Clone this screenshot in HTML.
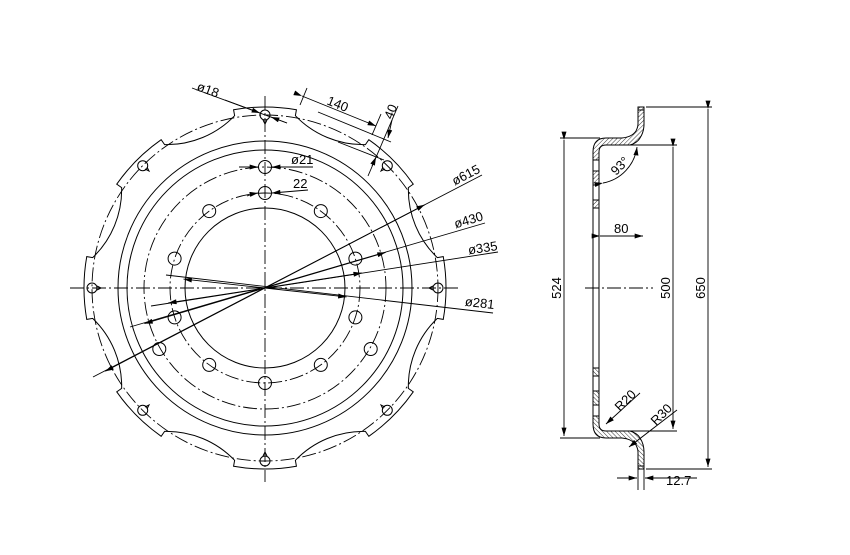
<!DOCTYPE html>
<html><head><meta charset="utf-8"><style>
html,body{margin:0;padding:0;background:#fff;}
svg{display:block;}
text{font-family:"Liberation Sans",sans-serif;font-size:13px;fill:#000;}
</style></head><body>
<svg width="850" height="555" viewBox="0 0 850 555" xmlns="http://www.w3.org/2000/svg">
<defs>
<marker id="ar" viewBox="0 0 10 6" refX="10" refY="3" markerWidth="9" markerHeight="5" orient="auto" markerUnits="userSpaceOnUse"><path d="M0,0 L10,3 L0,6 Z" fill="#000"/></marker>
<pattern id="h" patternUnits="userSpaceOnUse" width="3" height="3" patternTransform="rotate(45)"><line x1="0" y1="0" x2="0" y2="3" stroke="#000" stroke-width="0.8"/></pattern>
</defs>
<g fill="none" stroke="#000" stroke-width="1">
<g stroke-dasharray="14 3 2 3" stroke-width="0.9">
<line x1="70" y1="288" x2="458" y2="288"/>
<line x1="265" y1="96" x2="265" y2="482"/>
<circle cx="265" cy="288" r="173"/>
<circle cx="265" cy="288" r="121"/>
<circle cx="265" cy="288" r="95"/>
<line x1="585" y1="288" x2="653" y2="288"/>
</g>
<circle cx="265" cy="288" r="147"/>
<circle cx="265" cy="288" r="138"/>
<circle cx="265" cy="288" r="80"/>
<path d="M437.34,257.62 L443.25,256.58 A181,181 0 0 1 443.25,319.42 L437.34,318.38 A94,94 0 0 0 408.36,388.38 L413.28,391.82 A181,181 0 0 1 368.82,436.28 L365.38,431.36 A94,94 0 0 0 295.38,460.34 L296.42,466.25 A181,181 0 0 1 233.58,466.25 L234.62,460.34 A94,94 0 0 0 164.62,431.36 L161.18,436.28 A181,181 0 0 1 116.72,391.82 L121.64,388.38 A94,94 0 0 0 92.66,318.38 L86.75,319.42 A181,181 0 0 1 86.75,256.58 L92.66,257.62 A94,94 0 0 0 121.64,187.62 L116.72,184.18 A181,181 0 0 1 161.18,139.72 L164.62,144.64 A94,94 0 0 0 234.62,115.66 L233.58,109.75 A181,181 0 0 1 296.42,109.75 L295.38,115.66 A94,94 0 0 0 365.38,144.64 L368.82,139.72 A181,181 0 0 1 413.28,184.18 L408.36,187.62 A94,94 0 0 0 437.34,257.62 Z"/>
<g>
<circle cx="438" cy="288" r="5"/><circle cx="387.3" cy="410.3" r="5"/><circle cx="265" cy="461" r="5"/><circle cx="142.7" cy="410.3" r="5"/>
<circle cx="92" cy="288" r="5"/><circle cx="142.7" cy="165.7" r="5"/><circle cx="265" cy="115" r="5"/><circle cx="387.3" cy="165.7" r="5"/>
<path d="M263,120 L265,124 L267,120"/><path d="M97,286 L101,288 L97,290"/><path d="M433,286 L429,288 L433,290"/><path d="M263,456 L265,452 L267,456"/>
<path d="M145,169 L149,171 L147,167"/><path d="M385,169 L381,171 L383,167"/><path d="M145,407 L149,405 L147,409"/><path d="M385,407 L381,405 L383,409"/>
</g>
<g>
<circle cx="265" cy="193" r="6.5"/><circle cx="320.8" cy="211.1" r="6.5"/><circle cx="355.4" cy="258.6" r="6.5"/><circle cx="355.4" cy="317.4" r="6.5"/><circle cx="320.8" cy="364.9" r="6.5"/>
<circle cx="265" cy="383" r="6.5"/><circle cx="209.2" cy="364.9" r="6.5"/><circle cx="174.6" cy="317.4" r="6.5"/><circle cx="174.6" cy="258.6" r="6.5"/><circle cx="209.2" cy="211.1" r="6.5"/>
<circle cx="265" cy="167" r="6.5"/><circle cx="370.7" cy="349" r="6.5"/><circle cx="159.3" cy="349" r="6.5"/>
</g>
<g stroke-width="0.9">
<line x1="93" y1="377" x2="482" y2="175"/>
<line x1="265" y1="288" x2="424.7" y2="204.8" marker-end="url(#ar)"/>
<line x1="265" y1="288" x2="105.3" y2="371.2" marker-end="url(#ar)"/>
<line x1="130" y1="327" x2="485" y2="223"/>
<line x1="265" y1="288" x2="385.6" y2="252.4" marker-end="url(#ar)"/>
<line x1="265" y1="288" x2="144.4" y2="323.6" marker-end="url(#ar)"/>
<line x1="151" y1="306" x2="498" y2="252"/>
<line x1="265" y1="288" x2="361.8" y2="273" marker-end="url(#ar)"/>
<line x1="265" y1="288" x2="168.2" y2="303" marker-end="url(#ar)"/>
<line x1="166" y1="275" x2="493" y2="313"/>
<line x1="265" y1="288" x2="346.5" y2="296.9" marker-end="url(#ar)"/>
<line x1="265" y1="288" x2="183.5" y2="279.1" marker-end="url(#ar)"/>
<line x1="192" y1="88" x2="287" y2="123"/>
<line x1="225" y1="100" x2="260" y2="113" marker-end="url(#ar)"/>
<line x1="287" y1="123" x2="271" y2="117" marker-end="url(#ar)"/>
<line x1="239" y1="167" x2="258" y2="167" marker-end="url(#ar)"/>
<line x1="313" y1="167" x2="272" y2="167" marker-end="url(#ar)"/>
<path d="M247,196 Q252,194 258,193" marker-end="url(#ar)"/>
<line x1="308" y1="190" x2="272" y2="193" marker-end="url(#ar)"/>
<line x1="300" y1="105" x2="307" y2="88"/>
<line x1="372" y1="135" x2="381" y2="114"/>
<line x1="302" y1="96" x2="376" y2="126" marker-start="url(#ar)" marker-end="url(#ar)"/>
<line x1="318" y1="112" x2="391" y2="142"/>
<line x1="338" y1="142" x2="384" y2="160"/>
<line x1="368" y1="176" x2="398" y2="106"/>
<line x1="372" y1="166" x2="376" y2="157" marker-end="url(#ar)"/>
<line x1="392" y1="120" x2="388" y2="138" marker-end="url(#ar)"/>
</g>
<g id="sec" stroke-width="1">
<path d="M638,110 L644,110 L644,124 Q644,132 640,138 Q637,143 630,145 L606,145 Q599,145 599,152 L599,160 L593,160 L593,152 Q593,138 606,138 L622,138 Q632,137 636,131 Q638,127 638,124 Z" fill="url(#h)"/>
<rect x="638" y="107" width="6" height="3" fill="url(#h)"/>
<line x1="638" y1="110" x2="638" y2="124"/><line x1="644" y1="110" x2="644" y2="124"/>
<rect x="593" y="171" width="6" height="14" fill="url(#h)"/>
<rect x="593" y="200" width="6" height="8" fill="url(#h)"/>
<line x1="593" y1="160" x2="593" y2="288"/><line x1="599" y1="160" x2="599" y2="288"/>
</g>
<use href="#sec" transform="translate(0,576) scale(1,-1)"/>
<g stroke-width="0.9">
<line x1="560" y1="138" x2="600" y2="138"/><line x1="560" y1="438" x2="600" y2="438"/>
<line x1="564" y1="140" x2="564" y2="436" marker-start="url(#ar)" marker-end="url(#ar)"/>
<line x1="606" y1="145" x2="677" y2="145"/><line x1="606" y1="431" x2="677" y2="431"/>
<line x1="673" y1="147" x2="673" y2="429" marker-start="url(#ar)" marker-end="url(#ar)"/>
<line x1="646" y1="107" x2="712" y2="107"/><line x1="646" y1="469" x2="712" y2="469"/>
<line x1="708" y1="109" x2="708" y2="467" marker-start="url(#ar)" marker-end="url(#ar)"/>
<line x1="600" y1="236" x2="643" y2="236" marker-start="url(#ar)" marker-end="url(#ar)"/>
<path d="M603,183 A42,42 0 0 0 637,147" marker-start="url(#ar)" marker-end="url(#ar)"/>
<line x1="640" y1="393" x2="606" y2="424" marker-end="url(#ar)"/>
<line x1="677" y1="410" x2="629" y2="447" marker-end="url(#ar)"/>
<line x1="638" y1="469" x2="638" y2="490"/><line x1="644" y1="469" x2="644" y2="490"/>
<line x1="617" y1="478" x2="637" y2="478" marker-end="url(#ar)"/>
<line x1="697" y1="478" x2="645" y2="478" marker-end="url(#ar)"/>
</g>
</g>
<text transform="translate(196,90) rotate(20)">ø18</text>
<text transform="translate(326,104) rotate(22)">140</text>
<text transform="translate(392,120) rotate(-68)">40</text>
<text x="291" y="164">ø21</text>
<text x="293" y="188">22</text>
<text text-anchor="end" transform="translate(481,172) rotate(-27.5)">ø615</text>
<text text-anchor="end" transform="translate(484,220) rotate(-16.5)">ø430</text>
<text text-anchor="end" transform="translate(498,250) rotate(-8.8)">ø335</text>
<text text-anchor="end" transform="translate(494,309) rotate(6.3)">ø281</text>
<text text-anchor="middle" transform="translate(561,288) rotate(-90)">524</text>
<text text-anchor="middle" transform="translate(670,288) rotate(-90)">500</text>
<text text-anchor="middle" transform="translate(705,288) rotate(-90)">650</text>
<text x="614" y="233">80</text>
<text transform="translate(616,176) rotate(-45)">93°</text>
<text transform="translate(620,412) rotate(-45)">R20</text>
<text transform="translate(656,426) rotate(-45)">R30</text>
<text x="666" y="485">12.7</text>
</svg>
</body></html>
